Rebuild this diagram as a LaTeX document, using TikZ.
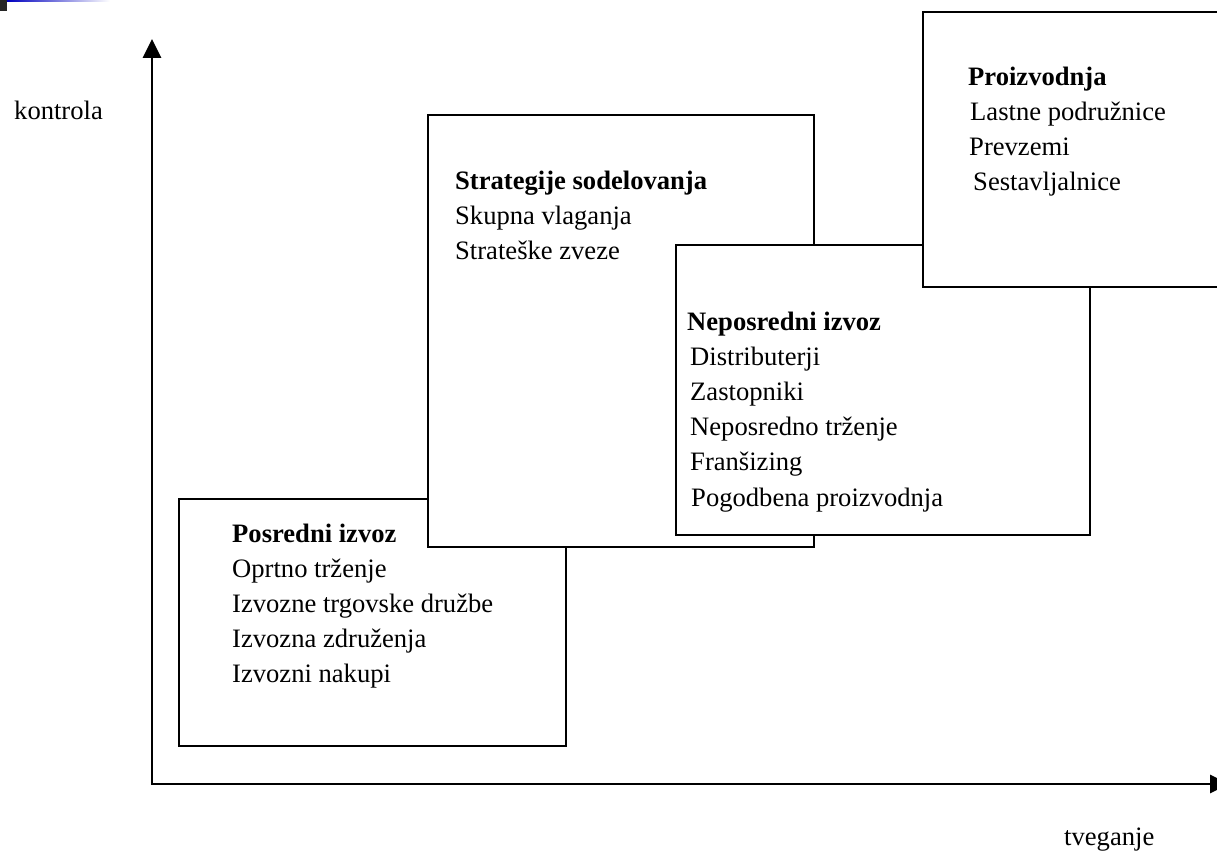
\documentclass[tikz,border=0pt]{standalone}
\usepackage{fontspec}
\setmainfont{Liberation Serif}
\usetikzlibrary{arrows.meta}

\tikzset{
  box/.style = {draw, fill = white, line width = 1.8pt},
  axis/.style = {line width = 2.8pt, line cap = rect, -{Triangle[length = 19pt, width = 18pt]}},
  item/.style = {anchor = base west, inner sep = 0pt, font = \fontsize{26.6}{35}\selectfont},
}

\begin{document}
\begin{tikzpicture}[x = 1pt, y = -1pt]
\useasboundingbox (0, 0) rectangle (1217, 851);

% corner of the slide
\fill [black!85] (0, 0) rectangle (7, 11);
\shade [left color = blue!75!black, right color = white] (7, 0) rectangle (110, 2);

% axes
\coordinate (origin) at (152, 784);
\coordinate (ytop) at (152, 39);
\coordinate (xend) at (1229, 784);
\draw [axis] (origin) -- (ytop);
\draw [axis] (origin) -- (xend);
\node [item] (kontrola) at (14, 119) {kontrola};
\node [item] (tveganje) at (1064, 845) {tveganje};

% posredni izvoz
\filldraw [box] (179, 499) rectangle (566, 746);
\node [item] (pos0) at (232, 542) {\textbf{Posredni izvoz}};
\node [item] (pos1) at (232, 577) {Oprtno trženje};
\node [item] (pos2) at (232, 612) {Izvozne trgovske družbe};
\node [item] (pos3) at (232, 647) {Izvozna združenja};
\node [item] (pos4) at (232, 682) {Izvozni nakupi};

% strategije sodelovanja
\filldraw [box] (428, 115) rectangle (814, 547);
\node [item] (sod0) at (455, 189) {\textbf{Strategije sodelovanja}};
\node [item] (sod1) at (455, 224) {Skupna vlaganja};
\node [item] (sod2) at (455, 259) {Strateške zveze};

% neposredni izvoz
\filldraw [box] (676, 245) rectangle (1090, 535);
\node [item] (nep0) at (687, 330) {\textbf{Neposredni izvoz}};
\node [item] (nep1) at (690, 365) {Distributerji};
\node [item] (nep2) at (690, 400) {Zastopniki};
\node [item] (nep3) at (690, 435) {Neposredno trženje};
\node [item] (nep4) at (690, 470) {Franšizing};
\node [item] (nep5) at (691, 506) {Pogodbena proizvodnja};

% proizvodnja
\filldraw [box] (923, 12) rectangle (1232, 287);
\node [item] (pro0) at (968, 85) {\textbf{Proizvodnja}};
\node [item] (pro1) at (970, 120) {Lastne podružnice};
\node [item] (pro2) at (969, 155) {Prevzemi};
\node [item] (pro3) at (973, 190) {Sestavljalnice};
\end{tikzpicture}
\end{document}
